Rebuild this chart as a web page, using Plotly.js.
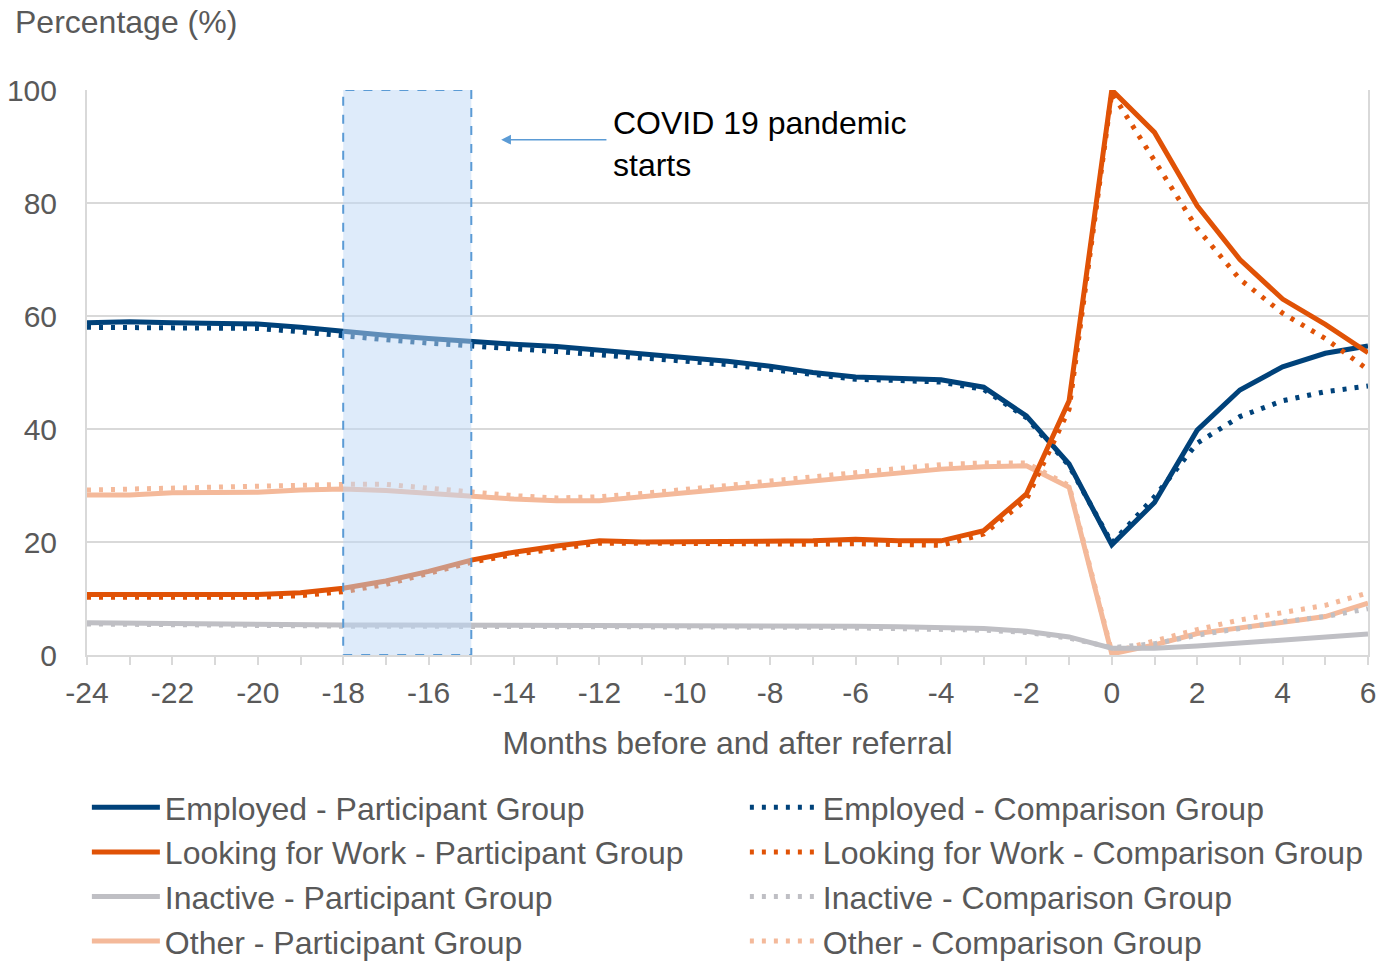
<!DOCTYPE html>
<html>
<head>
<meta charset="utf-8">
<script src="https://cdn.plot.ly/plotly-3.0.1.min.js"></script>
<style>html,body{margin:0;padding:0;background:#fff;}#chart{width:1394px;height:967px;}</style>
</head>
<body>
<div id="chart"></div>
<script>
const months = [-24,-23,-22,-21,-20,-19,-18,-17,-16,-15,-14,-13,-12,-11,-10,-9,-8,-7,-6,-5,-4,-3,-2,-1,0,1,2,3,4,5,6];
const tickValues = [-24,-22,-20,-18,-16,-14,-12,-10,-8,-6,-4,-2,0,2,4,6];
const tickLabels = ["-24","-22","-20","-18","-16","-14","-12","-10","-8","-6","-4","-2","0","2","4","6"];

const employedParticipant = [58.8,59.0,58.8,58.8,58.6,58.0,57.2,56.6,56.0,55.4,55.0,54.6,54.0,53.4,52.7,52.0,51.1,50.0,49.2,49.0,48.7,47.4,42.3,33.8,19.5,27.0,39.8,46.9,51.0,53.4,54.7];
const employedComparison  = [58.0,58.0,58.0,58.0,57.8,57.2,56.4,55.8,55.2,54.6,54.2,53.7,53.2,52.7,52.0,51.4,50.6,49.6,48.8,48.6,48.3,47.0,42.0,33.5,19.8,28.0,37.5,42.2,45.0,46.6,47.6];
const lookingParticipant  = [10.7,10.7,10.5,10.6,10.7,11.0,11.8,13.1,14.8,16.8,18.2,19.3,20.2,20.0,20.0,20.0,20.0,20.2,20.5,20.2,20.2,22.0,28.5,45.0,100.0,92.5,79.5,70.0,63.0,58.5,53.5];
const lookingComparison   = [10.2,10.2,10.2,10.2,10.2,10.5,11.2,12.5,14.4,16.4,17.8,18.8,19.8,19.8,19.7,19.6,19.6,19.6,19.7,19.6,19.4,21.4,27.5,43.5,99.5,87.5,75.5,66.5,60.5,56.0,50.5];
const inactiveParticipant = [5.7,5.6,5.5,5.4,5.3,5.3,5.3,5.3,5.3,5.3,5.3,5.3,5.3,5.3,5.3,5.2,5.2,5.2,5.1,5.0,4.9,4.7,4.2,3.2,1.2,1.2,1.6,2.1,2.6,3.1,3.7];
const inactiveComparison  = [5.5,5.4,5.3,5.2,5.1,5.1,5.1,5.1,5.1,5.1,5.1,5.1,5.1,5.1,5.0,5.0,5.0,4.9,4.8,4.7,4.6,4.4,4.0,3.0,1.3,2.0,3.5,4.8,5.9,6.8,8.2];
const otherParticipant    = [28.3,28.3,28.7,28.8,28.8,29.2,29.4,29.1,28.6,28.0,27.6,27.3,27.3,28.0,28.7,29.4,30.2,31.0,31.7,32.2,32.9,33.3,33.5,29.7,0.2,1.8,3.8,4.8,5.8,6.8,9.2];
const otherComparison     = [29.2,29.4,29.6,29.7,29.8,30.0,30.2,30.2,29.5,28.8,28.2,27.8,28.0,28.6,29.2,30.0,30.8,31.6,32.4,33.0,33.7,34.0,34.0,30.0,0.5,2.5,4.5,6.2,7.5,8.8,11.0];

const seriesNames = [
  "Employed - Participant Group","Employed - Comparison Group",
  "Looking for Work - Participant Group","Looking for Work - Comparison Group",
  "Inactive - Participant Group","Inactive - Comparison Group",
  "Other - Participant Group","Other - Comparison Group"
];
const seriesValues = [employedParticipant,employedComparison,lookingParticipant,lookingComparison,inactiveParticipant,inactiveComparison,otherParticipant,otherComparison];
const seriesColors = ["#00427a","#00427a","#e05206","#e05206","#bfbfc4","#bfbfc4","#f4b99a","#f4b99a"];

const pandemicStart = -18, pandemicEnd = -15;
const annotationText = "COVID 19 pandemic<br>starts";

const textColor = "#595959";
const font = "Liberation Sans, Arial, sans-serif";

const drawOrder = [6,7,4,5,0,1,2,3];
const traces = drawOrder.map(i => ({
  x: months, y: seriesValues[i], name: seriesNames[i], type: "scatter", mode: "lines",
  line: {color: seriesColors[i], width: 5, dash: (i % 2 === 1) ? "4px,8px" : "solid"},
  legendrank: i + 1
}));

const layout = {
  width: 1394, height: 967,
  margin: {l: 87, r: 26, t: 90, b: 312, autoexpand: false},
  paper_bgcolor: "#fff", plot_bgcolor: "#fff",
  font: {family: font, color: textColor, size: 30},
  showlegend: true,
  legend: {orientation: "h", x: -0.0001, xanchor: "left", y: -0.2212, yanchor: "top",
           entrywidth: 575, entrywidthmode: "pixels", traceorder: "normal",
           itemwidth: 68, tracegroupgap: 0,
           font: {family: font, size: 32, color: textColor}},
  xaxis: {range: [-24, 6], tickmode: "array", tickvals: tickValues, ticktext: tickLabels,
          ticks: "outside", ticklen: 8, tickcolor: "#d9d9d9", tickwidth: 2,
          minor: {dtick: 1, tick0: -24, ticks: "outside", ticklen: 8, tickcolor: "#d9d9d9", tickwidth: 2, showgrid: false},
          showgrid: false, zeroline: false, showline: true, linecolor: "#d9d9d9", linewidth: 2,
          tickfont: {size: 30, color: textColor}, ticklabelstandoff: 2,
          title: {text: "Months before and after referral", font: {size: 32, color: textColor}, standoff: 24}},
  yaxis: {range: [0, 100], tickmode: "linear", tick0: 0, dtick: 20,
          showgrid: true, gridcolor: "#d9d9d9", gridwidth: 2, zeroline: false,
          showline: true, mirror: true, linecolor: "#d9d9d9", linewidth: 2,
          ticks: "", ticklabelstandoff: 22,
          tickfont: {size: 30, color: textColor}},
  shapes: [
    {type: "rect", xref: "x", yref: "y", x0: pandemicStart, x1: pandemicEnd, y0: 0, y1: 100,
     fillcolor: "rgba(190,215,245,0.5)", line: {color: "#5b9bd5", width: 2, dash: "dash"}, layer: "above"}
  ],
  annotations: [
    {xref: "paper", yref: "paper", x: -0.058, y: 1.12, xanchor: "left", yanchor: "middle",
     text: "Percentage (%)", showarrow: false, font: {size: 32, color: textColor}},
    {xref: "x", yref: "y", x: -14.3, y: 91.2, ax: -11.8, ay: 91.2, axref: "x", ayref: "y",
     showarrow: true, arrowhead: 2, arrowsize: 1.3, arrowwidth: 1.5, arrowcolor: "#5b9bd5", text: ""},
    {xref: "x", yref: "y", x: -11.72, y: 90.4, xanchor: "left", yanchor: "middle", align: "left",
     text: annotationText, showarrow: false, font: {size: 32, color: "#000"}}
  ]
};

Plotly.newPlot("chart", traces, layout, {displayModeBar: false, staticPlot: true});
</script>
</body>
</html>
